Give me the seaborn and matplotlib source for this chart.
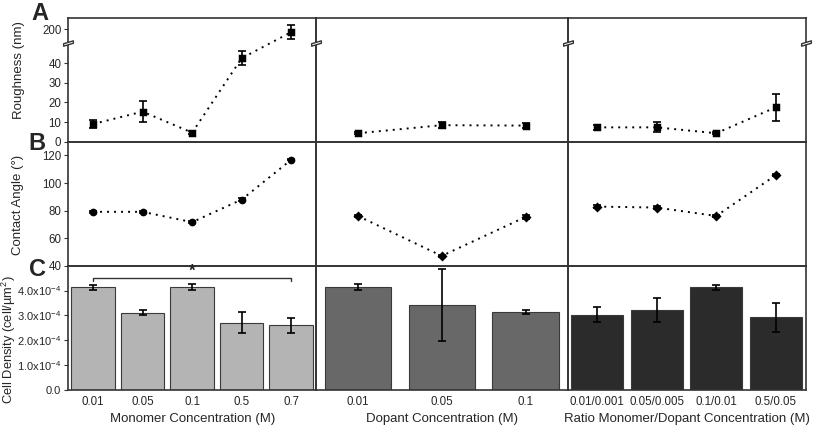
import numpy as np
import matplotlib
matplotlib.use("Agg")
import matplotlib.pyplot as plt
import matplotlib.transforms as mtransforms
from matplotlib.path import Path
from matplotlib.ticker import FixedLocator, FixedFormatter
import seaborn as sns

# ---------------- data ----------------
monomer_cats = ["0.01", "0.05", "0.1", "0.5", "0.7"]
dopant_cats = ["0.01", "0.05", "0.1"]
ratio_cats = ["0.01/0.001", "0.05/0.005", "0.1/0.01", "0.5/0.05"]

monomer_rough = [9.0, 15.3, 4.6, 42.5, 195.0]
monomer_rough_err = [2.2, 5.5, 0.6, 3.4, 13.0]
dopant_rough = [4.3, 8.4, 8.2]
dopant_rough_err = [0.5, 1.5, 1.3]
ratio_rough = [7.3, 7.3, 4.3, 17.5]
ratio_rough_err = [1.2, 2.5, 0.5, 6.8]

monomer_angle = [79.1, 79.1, 71.6, 88.0, 116.9]
monomer_angle_err = [0.8, 0.8, 0.8, 0.8, 0.5]
dopant_angle = [76.1, 47.1, 75.4]
dopant_angle_err = [0.5, 0.8, 1.5]
ratio_angle = [82.9, 82.2, 76.1, 105.7]
ratio_angle_err = [0.8, 0.8, 0.8, 0.8]

monomer_density = [4.13e-4, 3.11e-4, 4.13e-4, 2.71e-4, 2.61e-4]
monomer_density_err = [0.11e-4, 0.10e-4, 0.12e-4, 0.42e-4, 0.30e-4]
dopant_density = [4.13e-4, 3.42e-4, 3.12e-4]
dopant_density_err = [0.12e-4, 1.45e-4, 0.08e-4]
ratio_density = [3.03e-4, 3.23e-4, 4.13e-4, 2.92e-4]
ratio_density_err = [0.30e-4, 0.48e-4, 0.10e-4, 0.59e-4]

xlabels = ["Monomer Concentration (M)", "Dopant Concentration (M)",
           "Ratio Monomer/Dopant Concentration (M)"]
ylabels = ["Roughness (nm)", "Contact Angle (°)", "Cell Density (cell/µm$^2$)"]
rough_ticks = [0, 10, 20, 30, 40, 200]
angle_ticks = [40, 60, 80, 100, 120]
density_ticks = [0, 1e-4, 2e-4, 3e-4, 4e-4]
density_ticklabels = ["0.0", "1.0x10$^{-4}$", "2.0x10$^{-4}$", "3.0x10$^{-4}$", "4.0x10$^{-4}$"]
bar_colors = ["#b4b4b4", "#686868", "#2b2b2b"]
bar_widths = [0.88, 0.79, 0.87]
rough_markers = ["s", "s", "s"]
angle_markers = ["o", "D", "D"]
sig_pair = (0, 4)
sig_level = 4.52e-4

# ---------------- style ----------------
sns.set_style("white")
plt.rcParams["font.family"] = ["Liberation Sans", "DejaVu Sans"]
plt.rcParams["mathtext.default"] = "regular"
plt.rcParams["axes.edgecolor"] = "#333333"
plt.rcParams["axes.linewidth"] = 1.2

W, H = 813, 429
fig = plt.figure(figsize=(W / 100, H / 100), dpi=100)

col_px = [(68.3, 316.0), (316.0, 567.5), (567.5, 805.5)]
row_px = [(18.3, 141.7), (141.7, 265.7), (265.7, 390.0)]
ylabel_center_px = [(19, 70), (18, 205), (9, 340)]


def add_ax(c, r):
    x0, x1 = col_px[c]
    y0, y1 = row_px[r]
    return fig.add_axes([x0 / W, 1 - y1 / H, (x1 - x0) / W, (y1 - y0) / H])


# broken-axis scale for roughness
LOW, HIGH = 50.0, 175.0
R = (25.0 / 45.0) / (98.7 / 50.0)
EPS = 1e-3


def fwd(y):
    y = np.asarray(y, dtype=float)
    return np.where(y <= LOW, y,
                    np.where(y < HIGH, LOW + (y - LOW) * EPS,
                             LOW + (HIGH - LOW) * EPS + (y - HIGH) * R))


def inv(t):
    t = np.asarray(t, dtype=float)
    t1 = LOW + (HIGH - LOW) * EPS
    return np.where(t <= LOW, t,
                    np.where(t < t1, LOW + (t - LOW) / EPS, HIGH + (t - t1) / R))


cats_all = [monomer_cats, dopant_cats, ratio_cats]
rough_all = [(monomer_rough, monomer_rough_err), (dopant_rough, dopant_rough_err),
             (ratio_rough, ratio_rough_err)]
angle_all = [(monomer_angle, monomer_angle_err), (dopant_angle, dopant_angle_err),
             (ratio_angle, ratio_angle_err)]
density_all = [(monomer_density, monomer_density_err), (dopant_density, dopant_density_err),
               (ratio_density, ratio_density_err)]

break_marker = Path([(-1, -0.55), (1, 0.05), (1, 0.55), (-1, -0.05), (-1, -0.55)],
                    [Path.MOVETO, Path.LINETO, Path.LINETO, Path.LINETO, Path.CLOSEPOLY])

line_kw = dict(color="black", linestyle=(0, (1, 2.6)), linewidth=1.4, markersize=4.5)
err_kw = dict(fmt="none", ecolor="black", elinewidth=1.2, capsize=3, capthick=1.2, zorder=4)

for c in range(3):
    cats = cats_all[c]
    n = len(cats)
    xs = np.arange(n)

    # ---- row A: roughness ----
    ax = add_ax(c, 0)
    ax.set_yscale("function", functions=(fwd, inv))
    vals, errs = rough_all[c]
    sns.pointplot(x=cats, y=vals, ax=ax, errorbar=None, marker=rough_markers[c], **line_kw)
    ax.errorbar(xs, vals, yerr=errs, **err_kw)
    ax.set_ylim(0, 220)
    ax.set_xlim(-0.5, n - 0.5)
    ax.yaxis.set_major_locator(FixedLocator(rough_ticks))
    ax.yaxis.set_major_formatter(FixedFormatter([str(t) for t in rough_ticks]))
    trans = mtransforms.blended_transform_factory(ax.transAxes, ax.transData)
    bx = [0, 1] if c == 2 else [0]
    for b in bx:
        ax.plot([b], [LOW + 0.06], transform=trans, marker=break_marker, markersize=7,
                markerfacecolor="white", markeredgecolor="#333333", markeredgewidth=1.0,
                linestyle="none", clip_on=False, zorder=6)

    # ---- row B: contact angle ----
    bx_ax = add_ax(c, 1)
    vals, errs = angle_all[c]
    sns.pointplot(x=cats, y=vals, ax=bx_ax, errorbar=None, marker=angle_markers[c], **line_kw)
    bx_ax.errorbar(xs, vals, yerr=errs, **err_kw)
    bx_ax.set_ylim(40, 130)
    bx_ax.set_xlim(-0.5, n - 0.5)
    bx_ax.set_yticks(angle_ticks)

    # ---- row C: cell density ----
    cx = add_ax(c, 2)
    vals, errs = density_all[c]
    sns.barplot(x=cats, y=vals, ax=cx, color=bar_colors[c], saturation=1,
                edgecolor="#3a3a3a", linewidth=0.8, width=bar_widths[c], errorbar=None)
    cx.errorbar(xs, vals, yerr=errs, **err_kw)
    cx.set_ylim(0, 5e-4)
    cx.set_xlim(-0.5, n - 0.5)
    cx.yaxis.set_major_locator(FixedLocator(density_ticks))
    cx.yaxis.set_major_formatter(FixedFormatter(density_ticklabels))
    cx.set_xlabel(xlabels[c], fontsize=9.5, labelpad=4)
    cx.tick_params(axis="x", length=0, pad=4, labelsize=8.3)

    for a, r in [(ax, 0), (bx_ax, 1), (cx, 2)]:
        for s in a.spines.values():
            s.set_visible(True)
            s.set_color("#333333")
            s.set_linewidth(1.2)
        a.set_facecolor("none")
        if r < 2:
            a.set_xlabel("")
            a.tick_params(axis="x", labelbottom=False, length=2, direction="in",
                          color="#333333")
        if c == 0:
            a.tick_params(axis="y", left=True, length=3, direction="out",
                          labelsize=8.0 if r == 2 else 8.3, pad=2, color="#333333")
            a.set_ylabel(ylabels[r], fontsize=9.3 if r == 2 else 9.5)
            x0, x1 = col_px[0]
            y0, y1 = row_px[r]
            lx, ly = ylabel_center_px[r]
            a.yaxis.set_label_coords((lx - x0) / (x1 - x0), (y1 - ly) / (y1 - y0))
            a.yaxis.label.set_verticalalignment("center")
        else:
            a.set_ylabel("")
            a.tick_params(axis="y", left=False, labelleft=False)

    if c == 0:
        # significance bracket
        x0s, x1s = sig_pair
        drop = 0.12e-4
        cx.plot([x0s, x0s, x1s, x1s], [sig_level - drop, sig_level, sig_level, sig_level - drop],
                color="#333333", linewidth=1.0, zorder=5)
        cx.text((x0s + x1s) / 2, sig_level - 0.05e-4, "*", ha="center", va="bottom",
                fontsize=12, fontweight="bold")

# panel letters
for letter, (lx, ly) in zip("ABC", [(40, 14), (37, 144), (37, 270)]):
    fig.text(lx / W, 1 - ly / H, letter, fontsize=17, fontweight="bold",
             ha="center", va="center")

fig.savefig("out.png", dpi=100)
